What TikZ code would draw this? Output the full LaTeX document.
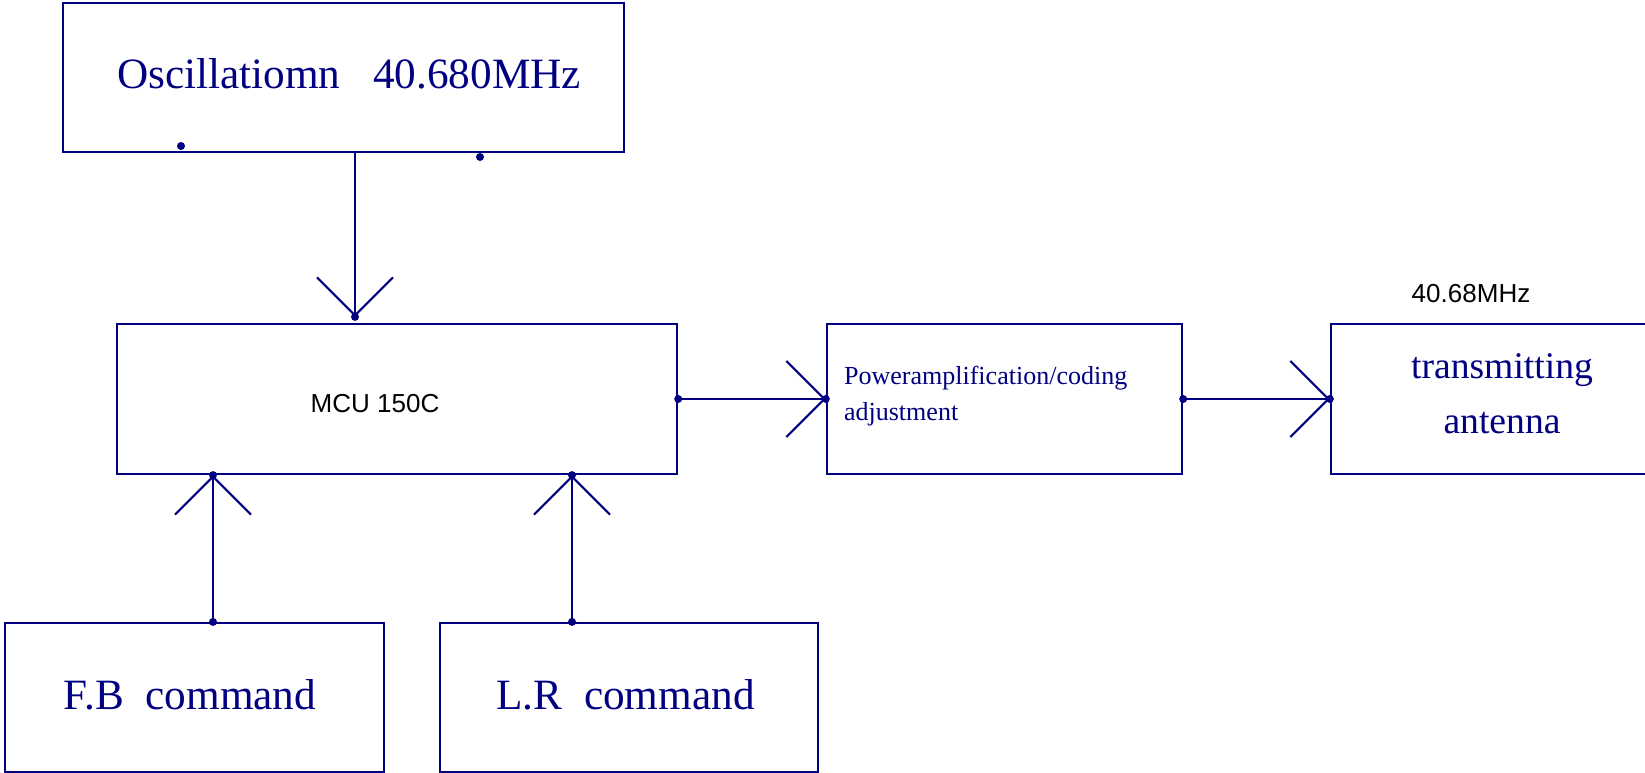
\documentclass[tikz,border=0pt]{standalone}
\usepackage{fontspec}
\setmainfont{Liberation Serif}
\newfontfamily\arialfont{Liberation Sans}
\usetikzlibrary{arrows.meta}
\definecolor{navy}{RGB}{0,0,128}

\begin{document}
\begin{tikzpicture}[x=0.01cm,y=-0.01cm,line width=0.6pt,
  box/.style={draw=navy,inner sep=0pt,minimum height=1.49cm},
  sig/.style={draw=navy,-{Straight Barb[length=0.38cm,width=0.76cm]}},
  big/.style={font=\fontsize{12.3}{14}\selectfont,text=navy,anchor=base}]
  \def\dot{circle [radius=0.04cm]}
  \useasboundingbox (0,0) rectangle (1645,773);

  \node[box,minimum width=5.61cm] (osc) at (343.5,77.5) {};
  \node[box,minimum width=5.60cm,minimum height=1.50cm] (mcu) at (397,399) {};
  \node[box,minimum width=3.55cm,minimum height=1.50cm] (pwr) at (1004.5,399) {};
  \node[box,minimum width=3.42cm,minimum height=1.50cm] (ant) at (1502,399) {};
  \node[box,minimum width=3.79cm] (fb) at (194.5,697.5) {};
  \node[box,minimum width=3.78cm] (lr) at (629,697.5) {};

  \node[big] (osctxt) at (349,89) {Oscillatiomn~~~40.680MHz};
  \node[anchor=base,font=\arialfont\fontsize{7.4}{9}\selectfont] (mcutxt) at (375,412) {MCU 150C};
  \node[anchor=base west,align=left,inner sep=0pt,text=navy,
    font=\fontsize{7.4}{10.2}\selectfont] (pwrtxt) at (843,420)
    {Poweramplification/coding\\adjustment};
  \node[anchor=base,align=center,inner sep=0pt,text=navy,
    font=\fontsize{10.7}{15.6}\selectfont] (anttxt) at (1502,433)
    {transmitting\\antenna};
  \node[anchor=base,font=\arialfont\fontsize{7.4}{9}\selectfont] (freq) at (1471,302) {40.68MHz};
  \node[big] (fbtxt) at (190,709) {F.B~~command};
  \node[big] (lrtxt) at (625.5,709) {L.R~~command};

  \coordinate (oscx) at (355,0);
  \coordinate (fbx) at (213,0);
  \coordinate (lrx) at (572,0);

  \draw[sig,shorten >=0.06cm] (osc.south -| oscx) -- (mcu.north -| oscx);
  \draw[sig] (mcu.east) -- (pwr.west);
  \draw[sig] (pwr.east) -- (ant.west);
  \draw[sig] (fb.north -| fbx) -- (mcu.south -| fbx);
  \draw[sig] (lr.north -| lrx) -- (mcu.south -| lrx);

  \fill[navy] ([yshift=0.06cm]mcu.north -| oscx) \dot;
  \fill[navy] (mcu.east) \dot (pwr.west) \dot (pwr.east) \dot (ant.west) \dot;
  \fill[navy] (fb.north -| fbx) \dot (mcu.south -| fbx) \dot;
  \fill[navy] (lr.north -| lrx) \dot (mcu.south -| lrx) \dot;
  % two loose dots under the oscillator box
  \fill[navy] (181,146) \dot (480,157) \dot;
\end{tikzpicture}
\end{document}
